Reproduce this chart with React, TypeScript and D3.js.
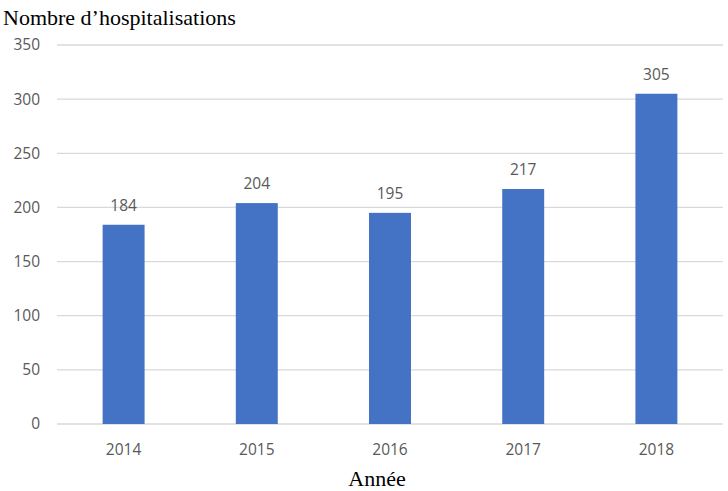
import React from "react";
import * as d3 from "d3";

const categories = ["2014", "2015", "2016", "2017", "2018"];
const values = [184, 204, 195, 217, 305];
const yTicks = [0, 50, 100, 150, 200, 250, 300, 350];
const yTitle = "Nombre d’hospitalisations";
const xTitle = "Année";

export default function App() {
  const W = 728;
  const H = 491;
  const x = d3.scaleBand<string>().domain(categories).range([57, 723]).padding(0);
  const y = d3.scaleLinear().domain([0, 350]).range([424, 45]);
  const bw = x.bandwidth() * 0.315;
  const sans = "'Open Sans', 'Segoe UI', sans-serif";
  const serif = "'Liberation Serif', 'Times New Roman', serif";
  return (
    <div style={{ position: "absolute", left: 0, top: 0 }}>
      <svg width={W} height={H} style={{ display: "block", background: "#fff" }}>
        {yTicks.map((t) => (
          <g key={t}>
            <line x1={57} x2={723} y1={y(t)} y2={y(t)} stroke="#d9d9d9" strokeWidth={1.3} />
            <text x={40} y={y(t)} dy="0.35em" textAnchor="end" fontFamily={sans} fontSize={15.5} fill="#595959">
              {t}
            </text>
          </g>
        ))}
        {categories.map((c, i) => (
          <g key={c}>
            <rect
              x={(x(c) as number) + x.bandwidth() / 2 - bw / 2}
              y={y(values[i])}
              width={bw}
              height={y(0) - y(values[i])}
              fill="#4472C4"
            />
            <text
              x={(x(c) as number) + x.bandwidth() / 2}
              y={y(values[i]) - 14}
              textAnchor="middle"
              fontFamily={sans}
              fontSize={15.5}
              fill="#595959"
            >
              {values[i]}
            </text>
            <text
              x={(x(c) as number) + x.bandwidth() / 2}
              y={455}
              textAnchor="middle"
              fontFamily={sans}
              fontSize={15.5}
              fill="#595959"
            >
              {c}
            </text>
          </g>
        ))}
        <text x={3} y={25} fontFamily={serif} fontSize={22} fill="#000">
          {yTitle}
        </text>
        <text x={377} y={486} textAnchor="middle" fontFamily={serif} fontSize={22} fill="#000">
          {xTitle}
        </text>
      </svg>
    </div>
  );
}
